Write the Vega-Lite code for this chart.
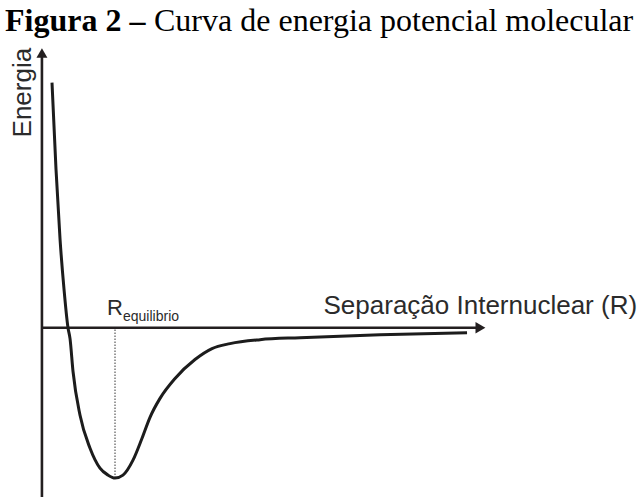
{
  "$schema": "https://vega.github.io/schema/vega-lite/v6.json",
  "width": 641,
  "height": 499,
  "padding": 0,
  "autosize": {"type": "fit", "contains": "padding"},
  "background": "white",
  "config": {"view": {"stroke": null}},
  "datasets": {
    "curve": [
      {"R": 0.168, "E": 4.92},
      {"R": 0.235, "E": 3.18},
      {"R": 0.302, "E": 1.78},
      {"R": 0.368, "E": 0.78},
      {"R": 0.435, "E": 0.0},
      {"R": 0.469, "E": -0.22},
      {"R": 0.519, "E": -0.88},
      {"R": 0.636, "E": -1.76},
      {"R": 0.803, "E": -2.42},
      {"R": 0.969, "E": -2.82},
      {"R": 1.103, "E": -2.96},
      {"R": 1.22, "E": -3.02},
      {"R": 1.353, "E": -2.96},
      {"R": 1.52, "E": -2.66},
      {"R": 1.671, "E": -2.22},
      {"R": 1.804, "E": -1.8},
      {"R": 1.971, "E": -1.42},
      {"R": 2.222, "E": -1.02},
      {"R": 2.555, "E": -0.64},
      {"R": 2.839, "E": -0.42},
      {"R": 3.14, "E": -0.32},
      {"R": 3.641, "E": -0.24},
      {"R": 4.308, "E": -0.2},
      {"R": 5.644, "E": -0.14},
      {"R": 7.096, "E": -0.1}
    ],
    "axes": [
      {"R": 0, "E": -3.4, "R2": 0, "E2": 5.45},
      {"R": 0, "E": 0, "R2": 7.25, "E2": 0}
    ],
    "equilibrium": [
      {"R": 1.22, "E": -3.02, "R2": 1.22, "E2": 0}
    ],
    "arrowUp": [{"R": 0, "E": 5.514}],
    "arrowRight": [{"R": 7.32, "E": 0}],
    "titleBold": [{"R": -0.6165, "E": 5.96, "text": "Figura 2 –"}],
    "titleRest": [{"R": 1.871, "E": 5.96, "text": "Curva de energia potencial molecular"}],
    "yLabel": [{"R": -0.1825, "E": 4.72, "text": "Energia"}],
    "xLabel": [{"R": 9.935, "E": 0.28, "text": "Separação Internuclear (R)"}],
    "eqMain": [{"R": 1.086, "E": 0.26, "text": "R"}],
    "eqSub": [{"R": 1.353, "E": 0.14, "text": "equilibrio"}]
  },
  "layer": [
    {
      "data": {"name": "equilibrium"},
      "mark": {"type": "rule", "color": "#7a7a7a", "strokeWidth": 1.5, "strokeDash": [1.5, 1.5]},
      "encoding": {
        "x": {"field": "R", "type": "quantitative", "axis": null, "scale": {"domain": [-0.7, 10.0], "nice": false, "zero": false}},
        "y": {"field": "E", "type": "quantitative", "axis": null, "scale": {"domain": [-3.4, 6.58], "nice": false, "zero": false}},
        "x2": {"field": "R2"},
        "y2": {"field": "E2"}
      }
    },
    {
      "data": {"name": "axes"},
      "mark": {"type": "rule", "color": "#231f20", "strokeWidth": 2.6},
      "encoding": {
        "x": {"field": "R", "type": "quantitative", "axis": null},
        "y": {"field": "E", "type": "quantitative", "axis": null},
        "x2": {"field": "R2"},
        "y2": {"field": "E2"}
      }
    },
    {
      "data": {"name": "arrowUp"},
      "mark": {"type": "point", "shape": "triangle-up", "size": 120, "filled": true, "color": "#231f20", "opacity": 1},
      "encoding": {
        "x": {"field": "R", "type": "quantitative", "axis": null},
        "y": {"field": "E", "type": "quantitative", "axis": null}
      }
    },
    {
      "data": {"name": "arrowRight"},
      "mark": {"type": "point", "shape": "triangle-right", "size": 130, "filled": true, "color": "#231f20", "opacity": 1},
      "encoding": {
        "x": {"field": "R", "type": "quantitative", "axis": null},
        "y": {"field": "E", "type": "quantitative", "axis": null}
      }
    },
    {
      "data": {"name": "curve"},
      "mark": {"type": "line", "interpolate": "monotone", "color": "#1c1c1c", "strokeWidth": 3},
      "encoding": {
        "x": {"field": "R", "type": "quantitative", "axis": null},
        "y": {"field": "E", "type": "quantitative", "axis": null},
        "order": {"field": "R", "type": "quantitative"}
      }
    },
    {
      "data": {"name": "titleBold"},
      "mark": {"type": "text", "font": "Liberation Serif", "fontSize": 32, "fontWeight": "bold", "align": "left", "baseline": "alphabetic", "color": "#000000"},
      "encoding": {
        "x": {"field": "R", "type": "quantitative", "axis": null},
        "y": {"field": "E", "type": "quantitative", "axis": null},
        "text": {"field": "text"}
      }
    },
    {
      "data": {"name": "titleRest"},
      "mark": {"type": "text", "font": "Liberation Serif", "fontSize": 32, "align": "left", "baseline": "alphabetic", "color": "#000000"},
      "encoding": {
        "x": {"field": "R", "type": "quantitative", "axis": null},
        "y": {"field": "E", "type": "quantitative", "axis": null},
        "text": {"field": "text"}
      }
    },
    {
      "data": {"name": "yLabel"},
      "mark": {"type": "text", "font": "Liberation Sans", "fontSize": 26, "angle": 270, "align": "center", "baseline": "alphabetic", "color": "#2b2b2b"},
      "encoding": {
        "x": {"field": "R", "type": "quantitative", "axis": null},
        "y": {"field": "E", "type": "quantitative", "axis": null},
        "text": {"field": "text"}
      }
    },
    {
      "data": {"name": "xLabel"},
      "mark": {"type": "text", "font": "Liberation Sans", "fontSize": 26, "align": "right", "baseline": "alphabetic", "color": "#2b2b2b"},
      "encoding": {
        "x": {"field": "R", "type": "quantitative", "axis": null},
        "y": {"field": "E", "type": "quantitative", "axis": null},
        "text": {"field": "text"}
      }
    },
    {
      "data": {"name": "eqMain"},
      "mark": {"type": "text", "font": "Liberation Sans", "fontSize": 22, "align": "left", "baseline": "alphabetic", "color": "#2b2b2b"},
      "encoding": {
        "x": {"field": "R", "type": "quantitative", "axis": null},
        "y": {"field": "E", "type": "quantitative", "axis": null},
        "text": {"field": "text"}
      }
    },
    {
      "data": {"name": "eqSub"},
      "mark": {"type": "text", "font": "Liberation Sans", "fontSize": 14, "align": "left", "baseline": "alphabetic", "color": "#2b2b2b"},
      "encoding": {
        "x": {"field": "R", "type": "quantitative", "axis": null},
        "y": {"field": "E", "type": "quantitative", "axis": null},
        "text": {"field": "text"}
      }
    }
  ]
}
